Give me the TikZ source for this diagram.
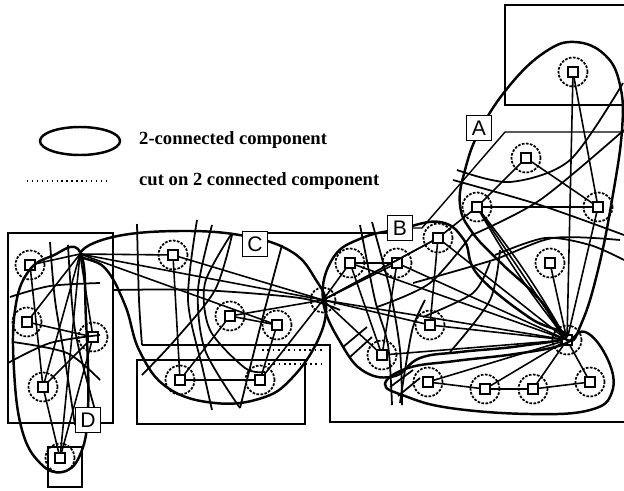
\documentclass[tikz,border=0pt]{standalone}
\usepackage{fontspec}
\setmainfont{Liberation Serif}
\setsansfont{Liberation Sans}
\begin{document}
\begin{tikzpicture}[x=0.02cm,y=-0.02cm,
  vtx/.style={draw, minimum size=0.2cm, inner sep=0pt, line width=0.9pt},
  halo/.style={draw, circle, minimum size=0.58cm, inner sep=0pt, line width=1pt, dash pattern=on 1.5pt off 0.8pt},
  comp/.style={line width=1.4pt},
  edge/.style={line width=0.9pt},
  cutline/.style={line width=1pt},
  region/.style={line width=0.8pt},
  tag/.style={draw, fill=white, line width=1.1pt, minimum size=0.5cm, inner sep=0pt, font=\fontsize{12}{14}\sffamily},
  legtext/.style={anchor=west, font=\fontsize{10.6}{12}\selectfont\bfseries}]
\useasboundingbox (0,0) rectangle (624,490);
\draw[region] (624,5) -- (505,5) -- (505,105) -- (624,105);
\draw[region] (268,233) -- (387,233);
\draw[region] (413,228) -- (422,228) -- (505,132) -- (624,132);
\draw[region] (8,233) rectangle (113,423);
\draw[region] (48,447) rectangle (82,487);
\draw[region] (142,345) -- (330,345) -- (330,422) -- (624,422);
\draw[region] (137,360) rectangle (305,424);
\coordinate (dh) at (80,254);
\coordinate (ch) at (323,300);
\draw[comp] plot[smooth cycle, tension=0.7] coordinates {(80,252) (86,320) (88,410) (80,455) (62,472) (40,463) (22,430) (14,370) (15,310) (28,272) (52,256)};
\draw[comp] plot[smooth cycle, tension=0.7] coordinates {(80,254) (113,237) (180,231) (245,236) (292,252) (316,280) (326,305) (318,340) (292,378) (262,398) (215,403) (168,388) (140,352) (125,305) (105,268)};
\draw[comp] plot[smooth cycle, tension=0.7] coordinates {(323,300) (333,258) (362,238) (400,229) (440,222) (464,240) (478,275) (530,318) (567,336) (520,346) (460,352) (420,358) (395,376) (365,372) (342,345)};
\draw[comp] plot[smooth cycle, tension=0.7] coordinates {(585,332) (608,360) (612,392) (590,410) (530,414) (450,408) (405,396) (385,384) (408,368) (455,361) (515,354) (562,345)};
\draw[comp] plot[smooth cycle, tension=0.7] coordinates {(567,340) (540,300) (500,262) (472,232) (460,205) (465,170) (480,130) (510,85) (545,52) (575,42) (605,55) (620,85) (622,130) (612,200) (598,270) (582,322)};
\foreach \n/\x/\y in {d1/30/265, d2/27/322, d3/93/337, d4/43/387, d5/60/458,
  c1/173/255, c2/230/316, c3/277/325, c4/180/380, c5/260/380,
  b1/350/263, b2/397/263, b3/438/238, b4/430/325, b5/382/355,
  e1/428/382, e2/485/389, e3/533/389, e4/590/382,
  a1/573/72, a2/526/158, a3/477/207, a4/598/207, a5/550/263, ah/567/340} {
  \node[halo] at (\x,\y) {};
  \node[vtx] (\n) at (\x,\y) {};
}
\node[halo, minimum size=0.5cm] (chc) at (ch) {};
\foreach \s/\t in {dh/d1, dh/d2, dh/d3, dh/d4, dh/d5, d1/d4, d4/d5, d2/d3, d3/d4, d3/d5,
  dh/c1, dh/ch, dh/c3, c1/ch, c1/c4, c2/c4, c2/c3, c2/ch, c3/c5, c4/c5, c5/ch,
  ch/b1, ch/b2, ch/b3, ch/b4, ch/b5, ch/ah, b1/b2, b1/b5, b1/ah, b2/b5, b3/b4, b3/ah, b3/ch, b5/ah, b2/ah, b4/ah,
  e1/e2, e2/e3, e3/e4, e1/ah, e2/ah, e3/ah, e4/ah,
  a1/ah, a1/a4, a2/a3, a2/a4, a3/a4, a3/ah, a4/ah, a5/ah, a3/b3} {
  \draw[edge] (\s) -- (\t);
}
\draw[edge] (a3) to[bend left=4] (ah);
\draw[edge] (a3) to[bend right=4] (ah);
\draw[cutline] plot[smooth] coordinates {(50,242) (55,300) (65,360) (75,425)};
\draw[cutline] plot[smooth] coordinates {(10,297) (50,286) (100,283)};
\draw[cutline] plot[smooth] coordinates {(8,363) (50,343) (100,335)};
\draw[cutline] plot[smooth] coordinates {(13,342) (67,353) (100,380)};
\draw[cutline] plot[smooth] coordinates {(68,245) (75,330) (95,410)};
\draw[cutline] plot[smooth] coordinates {(137,224) (139,300) (142,345)};
\draw[cutline] plot[smooth] coordinates {(197,220) (188,300) (203,370) (212,410)};
\draw[cutline] plot[smooth] coordinates {(212,225) (198,290) (205,350) (240,408)};
\draw[cutline] plot[smooth] coordinates {(232,233) (205,283) (210,330) (245,368) (265,372)};
\draw[cutline] plot[smooth] coordinates {(282,245) (262,320) (240,408)};
\draw[cutline] plot[smooth] coordinates {(113,290) (200,290) (300,298) (340,310)};
\draw[cutline] plot[smooth] coordinates {(142,375) (175,340) (215,290) (232,235)};
\draw[cutline, dotted] (262,350) -- (322,350);
\draw[cutline, dotted] (268,364) -- (322,364);
\draw[cutline] (343,347) -- (367,327);
\draw[cutline] (350,357) -- (372,337);
\draw[cutline] (390,387) -- (413,370);
\draw[cutline] (398,396) -- (420,378);
\draw[cutline] plot[smooth] coordinates {(360,225) (375,300) (388,345) (392,405)};
\draw[cutline] plot[smooth] coordinates {(372,222) (390,290) (400,350) (402,405)};
\draw[cutline] plot[smooth] coordinates {(400,403) (405,370) (413,327) (425,300)};
\draw[cutline] plot[smooth] coordinates {(473,233) (430,283) (377,307)};
\draw[cutline] plot[smooth] coordinates {(490,262) (473,293) (423,317)};
\draw[cutline] plot[smooth] coordinates {(500,250) (490,300) (450,352)};
\draw[cutline] plot[smooth] coordinates {(413,283) (493,260) (553,238) (620,240)};
\draw[cutline] plot[smooth] coordinates {(457,170) (510,182) (570,160) (623,83)};
\draw[cutline] plot[smooth] coordinates {(453,180) (540,205) (624,235)};
\draw[cutline] plot[smooth] coordinates {(472,235) (540,200) (624,130)};
\draw[cutline] plot[smooth] coordinates {(495,255) (545,238) (590,245) (624,260)};
\node[tag] (tA) at (479,128) {A};
\node[tag] (tB) at (400,228) {B};
\node[tag] (tC) at (255,244) {C};
\node[tag] (tD) at (88,420) {D};
\draw[comp] (80,141) ellipse [x radius=0.8cm, y radius=0.28cm];
\node[legtext] (lg1) at (133,140) {2-connected component};
\draw[line width=0.8pt, dotted] (27,181) -- (108,181);
\node[legtext] (lg2) at (133,181) {cut on 2 connected component};
\end{tikzpicture}
\end{document}
